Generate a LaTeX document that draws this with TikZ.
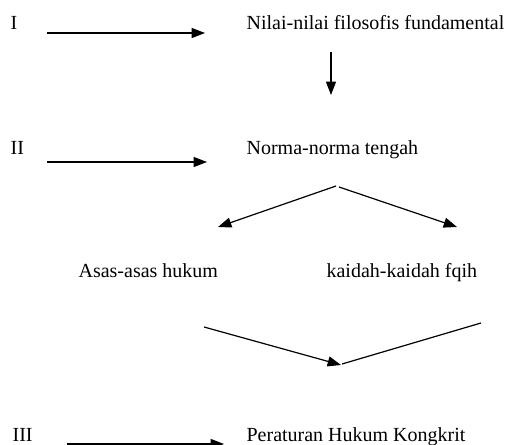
\documentclass[tikz,border=0pt]{standalone}
\usepackage{fontspec}
\setmainfont{Liberation Serif}
\usetikzlibrary{arrows.meta}
\begin{document}
\begin{tikzpicture}[x=0.75pt, y=-0.75pt, >={Triangle[length=10pt,width=7.5pt]}, line width=0.9pt]
            \tikzset{lbl/.style={anchor=base west, inner sep=0pt, font=\fontsize{15}{18}\selectfont}}
            \useasboundingbox (0,0) rectangle (506,445);
            \node[lbl] (levI) at (10,30) {I};
            \node[lbl] (levII) at (10,155) {II};
            \node[lbl] (levIII) at (12,441) {III};
            \node[lbl] (nilai) at (246,30) {Nilai-nilai filosofis fundamental};
            \node[lbl] (norma) at (246,155) {Norma-norma tengah};
            \node[lbl] (asas) at (78,277) {Asas-asas hukum};
            \node[lbl] (kaidah) at (326,277) {kaidah-kaidah fqih};
            \node[lbl] (aturan) at (246,441) {Peraturan Hukum Kongkrit};
            \coordinate (aI) at (47,33);
            \coordinate (bI) at (205,33);
            \coordinate (aII) at (47,162);
            \coordinate (bII) at (207,162);
            \coordinate (aIII) at (67,444);
            \coordinate (bIII) at (224,444);
            \coordinate (down1) at (331,52);
            \coordinate (down2) at (331,95);
            \coordinate (splitL) at (336,186);
            \coordinate (splitR) at (339,187);
            \coordinate (tipL) at (218,227);
            \coordinate (tipR) at (457,227);
            \coordinate (joinL) at (204,327);
            \coordinate (joinR) at (481,323);
            \coordinate (meetL) at (341,365);
            \coordinate (meetR) at (342,364);
            \draw[->] (aI) -- (bI);
            \draw[->] (aII) -- (bII);
            \draw[->] (aIII) -- (bIII);
            \draw[->] (down1) -- (down2);
            \draw[->] (splitL) -- (tipL);
            \draw[->] (splitR) -- (tipR);
            \draw[->] (joinL) -- (meetL);
            \draw (joinR) -- (meetR);
        \end{tikzpicture}
\end{document}
